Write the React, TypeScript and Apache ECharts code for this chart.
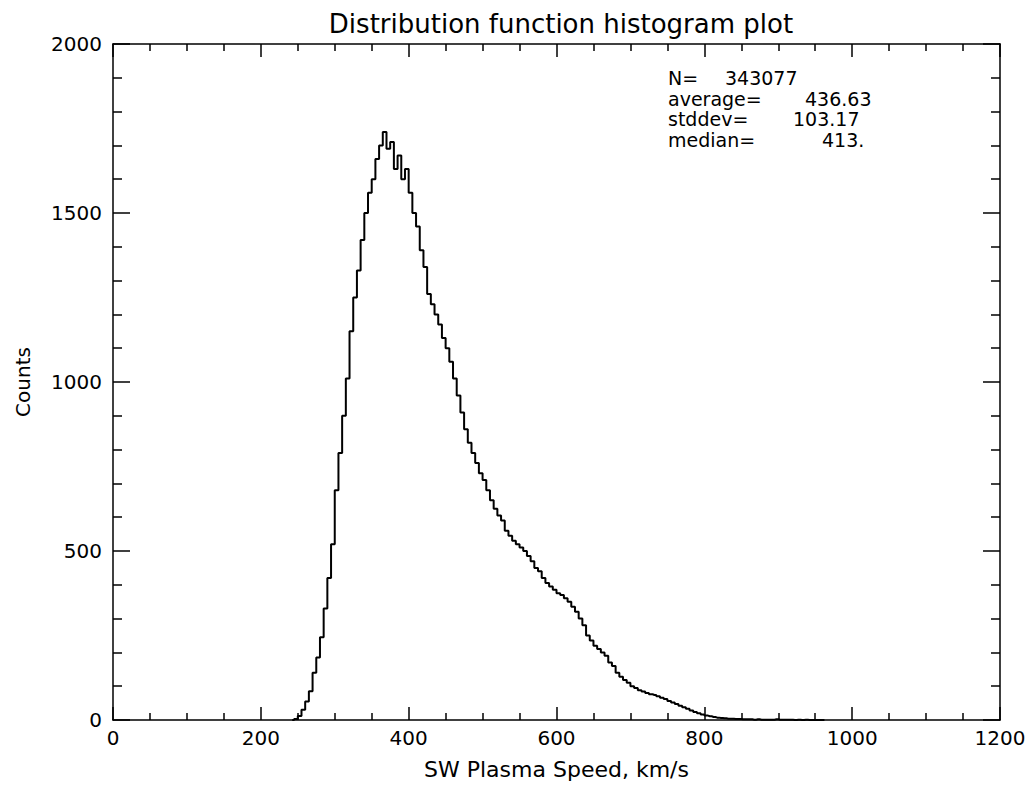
import React, { useEffect, useRef } from "react";
import * as echarts from "echarts";

// Histogram bins (km/s, bin start) and counts
const binStarts: number[] = [
  240, 245, 250, 255, 260, 265, 270, 275, 280, 285, 290, 295, 300, 305, 310, 315, 320, 325, 330, 335,
  340, 345, 350, 355, 360, 365, 370, 375, 380, 385, 390, 395, 400, 405, 410, 415, 420, 425, 430, 435,
  440, 445, 450, 455, 460, 465, 470, 475, 480, 485, 490, 495, 500, 505, 510, 515, 520, 525, 530, 535,
  540, 545, 550, 555, 560, 565, 570, 575, 580, 585, 590, 595, 600, 605, 610, 615, 620, 625, 630, 635,
  640, 645, 650, 655, 660, 665, 670, 675, 680, 685, 690, 695, 700, 705, 710, 715, 720, 725, 730, 735,
  740, 745, 750, 755, 760, 765, 770, 775, 780, 785, 790, 795, 800, 805, 810, 815, 820, 825, 830, 835,
  840, 845, 850, 855, 860, 865, 870, 875, 880, 885, 890, 895, 900, 905, 910, 915, 920, 925, 930, 935,
  940, 945, 950, 955, 960,
];
const counts: number[] = [
  0, 3, 12, 30, 55, 85, 140, 185, 245, 330, 420, 520, 680, 790, 900, 1010, 1150, 1250, 1330, 1420,
  1500, 1560, 1600, 1660, 1700, 1740, 1690, 1710, 1630, 1670, 1600, 1630, 1560, 1500, 1460, 1390, 1340, 1260, 1230, 1200,
  1170, 1130, 1100, 1060, 1010, 960, 910, 860, 820, 790, 760, 730, 710, 680, 650, 625, 605, 590, 560, 545,
  530, 520, 510, 500, 485, 470, 450, 440, 420, 405, 395, 385, 375, 370, 360, 350, 335, 320, 300, 280,
  250, 235, 220, 210, 200, 190, 170, 160, 140, 128, 118, 110, 100, 95, 88, 84, 80, 76, 74, 70,
  66, 62, 56, 52, 47, 42, 38, 33, 28, 24, 20, 16, 13, 11, 9, 7, 6, 5, 4, 4,
  3, 3, 2, 2, 2, 1, 2, 1, 1, 1, 1, 2, 1, 1, 1, 1, 0, 1, 0, 1,
  0, 0, 0, 0, 0,
];

const statLabels: string[] = ["N=", "average=", "stddev=", "median="];
const statValues: string[] = ["343077", "436.63", "103.17", "413."];

const titleText = "Distribution function histogram plot";
const xName = "SW Plasma Speed, km/s";
const yName = "Counts";

export default function App() {
  const ref = useRef<HTMLDivElement>(null);
  useEffect(() => {
    if (!ref.current) return;
    const chart = echarts.init(ref.current, undefined, { renderer: "svg" });
    const font = "DejaVu Sans";
    const black = "#000";
    const data = binStarts.map((b, i) => [b + 2.5, counts[i]]);
    const valueX = [725, 805, 793, 822];
    const statGraphics: any[] = [];
    statLabels.forEach((l, i) => {
      const y = 78 + i * 20.5;
      statGraphics.push({
        type: "text",
        x: 668,
        y,
        style: {
          text: l,
          fill: black,
          font: `19px ${font}`,
          lineHeight: 18,
          textVerticalAlign: "middle",
        },
      });
      statGraphics.push({
        type: "text",
        x: valueX[i],
        y,
        style: {
          text: statValues[i],
          fill: black,
          font: `19px ${font}`,
          lineHeight: 18,
          textVerticalAlign: "middle",
        },
      });
    });
    const tickStyle = { color: black, width: 1.5 };
    const plain = (v: number) => String(v);
    chart.setOption({
      animation: false,
      backgroundColor: "#fff",
      title: {
        text: titleText,
        left: 556,
        textAlign: "center",
        top: 6,
        textStyle: { fontFamily: font, fontSize: 26, fontWeight: "normal", color: black },
      },
      grid: { left: 113, top: 44, right: 33, bottom: 66, containLabel: false },
      xAxis: [
        {
          type: "value",
          position: "bottom",
          min: 0,
          max: 1200,
          interval: 200,
          name: xName,
          nameLocation: "middle",
          nameGap: 38,
          nameTextStyle: { fontFamily: font, fontSize: 22, color: black },
          axisLine: { show: true, onZero: false, lineStyle: tickStyle },
          axisTick: { show: true, inside: true, length: 13, lineStyle: tickStyle },
          minorTick: { show: true, splitNumber: 4, length: 7, lineStyle: tickStyle },
          axisLabel: { fontFamily: font, fontSize: 20, color: black, margin: 8, formatter: plain },
          splitLine: { show: false },
        },
        {
          type: "value",
          position: "top",
          min: 0,
          max: 1200,
          interval: 200,
          axisLine: { show: true, onZero: false, lineStyle: tickStyle },
          axisTick: { show: true, inside: true, length: 13, lineStyle: tickStyle },
          minorTick: { show: true, splitNumber: 4, length: 7, lineStyle: tickStyle },
          axisLabel: { show: false },
          splitLine: { show: false },
        },
      ],
      yAxis: [
        {
          type: "value",
          position: "left",
          min: 0,
          max: 2000,
          interval: 500,
          name: yName,
          nameLocation: "middle",
          nameGap: 80,
          nameRotate: 90,
          nameTextStyle: { fontFamily: font, fontSize: 20, color: black },
          axisLine: { show: true, onZero: false, lineStyle: tickStyle },
          axisTick: { show: true, inside: true, length: 17, lineStyle: tickStyle },
          minorTick: { show: true, splitNumber: 5, length: 9, lineStyle: tickStyle },
          axisLabel: { fontFamily: font, fontSize: 20, color: black, margin: 11, formatter: plain },
          splitLine: { show: false },
        },
        {
          type: "value",
          position: "right",
          min: 0,
          max: 2000,
          interval: 500,
          axisLine: { show: true, onZero: false, lineStyle: tickStyle },
          axisTick: { show: true, inside: true, length: 17, lineStyle: tickStyle },
          minorTick: { show: true, splitNumber: 5, length: 9, lineStyle: tickStyle },
          axisLabel: { show: false },
          splitLine: { show: false },
        },
      ],
      series: [
        {
          type: "line",
          step: "middle",
          xAxisIndex: 0,
          yAxisIndex: 0,
          data,
          showSymbol: false,
          symbol: "none",
          lineStyle: { color: black, width: 2 },
          clip: true,
        },
      ],
      graphic: statGraphics,
    });
    return () => chart.dispose();
  }, []);
  return (
    <div
      ref={ref}
      style={{ position: "fixed", left: 0, top: 0, width: 1033, height: 786, background: "#fff" }}
    />
  );
}
